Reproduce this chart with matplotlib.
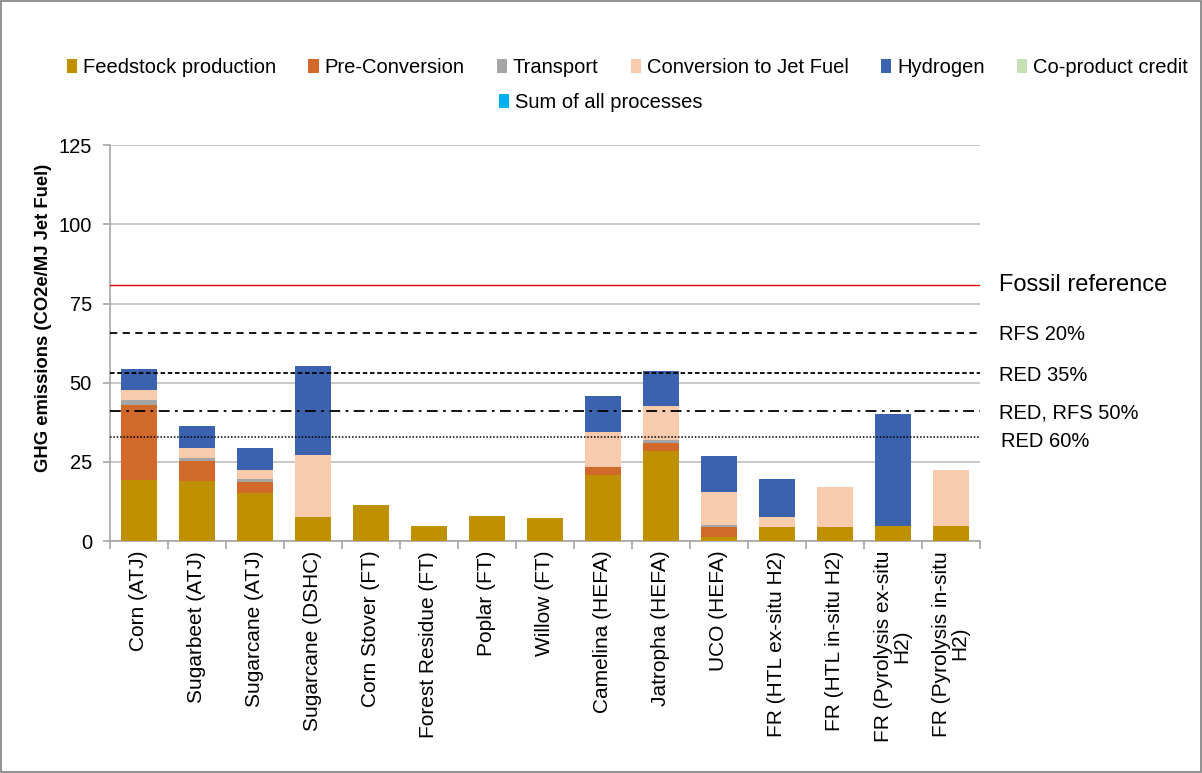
import matplotlib
matplotlib.use("Agg")
import matplotlib.pyplot as plt
from matplotlib.patches import Patch, Rectangle
import numpy as np

plt.rcParams['font.family'] = ['Liberation Sans', 'DejaVu Sans']

categories = ["Corn (ATJ)", "Sugarbeet (ATJ)", "Sugarcane (ATJ)", "Sugarcane (DSHC)",
              "Corn Stover (FT)", "Forest Residue (FT)", "Poplar (FT)", "Willow (FT)",
              "Camelina (HEFA)", "Jatropha (HEFA)", "UCO (HEFA)", "FR (HTL ex-situ H2)",
              "FR (HTL in-situ H2)", "FR (Pyrolysis ex-situ\nH2)", "FR (Pyrolysis in-situ\nH2)"]

feedstock   = [19.3, 19.0, 15.1, 7.7, 11.4, 4.8, 8.0, 7.4, 20.8, 28.5, 1.4, 4.3, 4.3, 4.7, 4.7]
preconv     = [23.8, 6.4, 3.6, 0.0, 0.0, 0.0, 0.0, 0.0, 2.7, 2.5, 2.9, 0.0, 0.0, 0.0, 0.0]
transport   = [1.6, 1.0, 0.8, 0.0, 0.0, 0.0, 0.0, 0.0, 0.0, 0.9, 0.8, 0.0, 0.0, 0.0, 0.0]
conversion  = [3.0, 3.1, 3.1, 19.4, 0.0, 0.0, 0.0, 0.0, 11.0, 10.7, 10.5, 3.2, 12.7, 0.0, 17.7]
hydrogen    = [6.8, 6.7, 6.7, 28.2, 0.0, 0.0, 0.0, 0.0, 11.3, 11.1, 11.2, 12.0, 0.0, 35.3, 0.0]
coproduct   = [0.0] * 15

series_names = ["Feedstock production", "Pre-Conversion", "Transport",
                "Conversion to Jet Fuel", "Hydrogen", "Co-product credit"]
series_vals = [feedstock, preconv, transport, conversion, hydrogen, coproduct]
series_colors = ["#BF9000", "#D0692A", "#A5A5A5", "#F8CBAD", "#3A62AE", "#C5E0B4"]
sum_color = "#00B0F0"

ref_labels = ["Fossil reference", "RFS 20%", "RED 35%", "RED, RFS 50%", "RED 60%"]
ref_values = [80.8, 65.6, 53.2, 41.0, 32.8]

FS = 14.5

fig = plt.figure(figsize=(12.02, 7.73), dpi=100)
ax = fig.add_axes([0.0915, 0.300, 0.7235, 0.512])

x = np.arange(len(categories))
bottom = np.zeros(len(categories))
for name, vals, col in zip(series_names, series_vals, series_colors):
    v = np.array(vals)
    ax.bar(x, v, width=0.62, bottom=bottom, color=col, zorder=3)
    bottom += v

# Reference lines
ax.axhline(ref_values[0], color="#E00000", lw=1.0, zorder=4)
ax.axhline(ref_values[1], color="black", lw=1.3, ls=(0, (4, 3)), zorder=4)
ax.axhline(ref_values[2], color="black", lw=1.3, ls=(0, (2.5, 1.5)), zorder=4)
ax.axhline(ref_values[3], color="black", lw=1.3, ls=(0, (6, 3, 1.5, 3)), zorder=4)
ax.axhline(ref_values[4], color="black", lw=1.1, ls=(0, (1, 1.2)), zorder=4)

ax.set_xlim(-0.5, len(categories) - 0.5)
ax.set_ylim(0, 125)
ax.set_yticks([0, 25, 50, 75, 100, 125])
ax.yaxis.grid(True, color="#BFBFBF", lw=1.2, zorder=0)
ax.set_axisbelow(True)
for s in ["top", "right"]:
    ax.spines[s].set_visible(False)
for s in ["left", "bottom"]:
    ax.spines[s].set_color("#A6A6A6")
    ax.spines[s].set_linewidth(1.2)
ax.tick_params(axis="y", colors="#A6A6A6", labelcolor="black", labelsize=FS,
               length=5, width=1.2, pad=8)
ax.set_xticks(x)
ax.set_xticklabels(categories, rotation=90, fontsize=15, va="top", ha="center",
                   multialignment="center", linespacing=0.95)
ax.tick_params(axis="x", length=0, pad=7)
ax.set_xticks(np.arange(-0.5, len(categories) + 0.5, 1), minor=True)
ax.tick_params(axis="x", which="minor", length=6, width=1.2, colors="#A6A6A6")
ax.set_ylabel("GHG emissions (CO2e/MJ Jet Fuel)", fontsize=13.3, fontweight="bold")
ax.yaxis.set_label_coords(-0.067, 0.563)

# Labels for reference lines
trans = ax.get_yaxis_transform()
ax.text(1.022, ref_values[0], ref_labels[0], transform=trans, fontsize=17,
        va="center", ha="left", clip_on=False)
ax.text(1.022, ref_values[1] - 0.4, ref_labels[1], transform=trans, fontsize=FS,
        va="center", ha="left", clip_on=False)
ax.text(1.022, ref_values[2] - 0.8, ref_labels[2], transform=trans, fontsize=FS,
        va="center", ha="left", clip_on=False)
ax.text(1.022, ref_values[3] - 0.4, ref_labels[3], transform=trans, fontsize=FS,
        va="center", ha="left", clip_on=False)
ax.text(1.025, ref_values[4] - 1.5, ref_labels[4], transform=trans, fontsize=FS,
        va="center", ha="left", clip_on=False)

# Legend in two rows
handles = [Patch(facecolor=c, edgecolor="none") for c in series_colors]
fig.legend(handles, series_names, loc="center", bbox_to_anchor=(0.522, 0.913),
           ncol=6, frameon=False, fontsize=FS, handlelength=0.5,
           handleheight=0.7, handletextpad=0.3, columnspacing=1.6)
fig.legend([Patch(facecolor=sum_color, edgecolor="none")], ["Sum of all processes"],
           loc="center", bbox_to_anchor=(0.5, 0.867), frameon=False, fontsize=FS,
           handlelength=0.5, handleheight=0.7, handletextpad=0.3)

# Figure border
fig.patches.append(Rectangle((0.0008, 0.0013), 0.9984, 0.9974, transform=fig.transFigure,
                             fill=False, edgecolor="#7F7F7F", lw=1.2))

fig.savefig("out.png", dpi=100)
